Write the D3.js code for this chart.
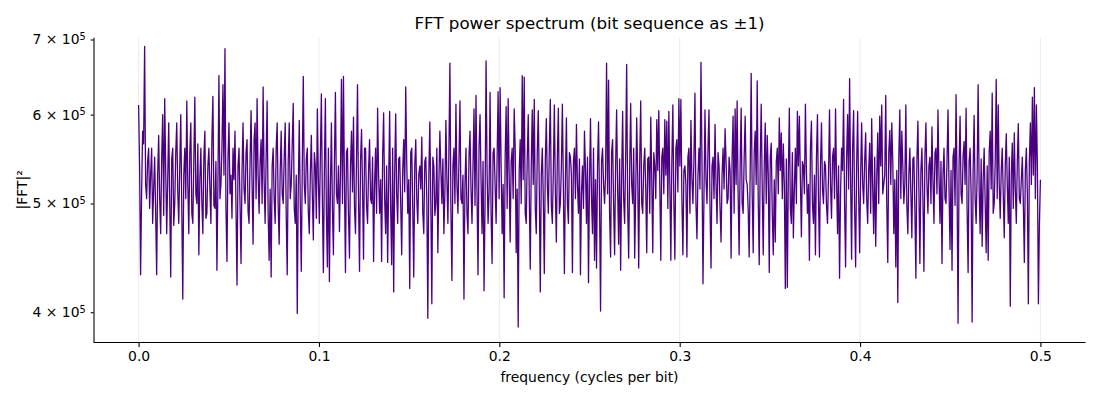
<!DOCTYPE html>
<html>
<head>
<meta charset="utf-8">
<script src="https://cdn.jsdelivr.net/npm/d3@7"></script>
<style>
  body { margin: 0; background: #fff; }
  text { font-family: "DejaVu Sans", sans-serif; }
</style>
</head>
<body>
<svg id="chart" width="1100" height="400"></svg>
<script>
// |FFT|^2 per frequency bin, in thousands
const powerK = [
  612, 540, 432, 510, 580, 565, 690, 520, 505, 545, 560, 495, 530, 560, 480, 515, 550, 490, 432, 530,
  575, 505, 470, 550, 600, 488, 620, 535, 470, 525, 590, 500, 430, 548, 560, 478, 500, 555, 590, 512,
  480, 540, 600, 496, 411, 530, 560, 505, 617, 520, 470, 556, 590, 490, 480, 545, 622, 510, 500, 565,
  450, 525, 560, 500, 470, 550, 580, 485, 490, 540, 560, 515, 480, 570, 623, 498, 495, 545, 436, 520,
  650, 505, 520, 560, 638, 530, 687, 495, 444, 548, 590, 510, 530, 485, 560, 525, 580, 495, 423, 540,
  560, 500, 442, 535, 590, 515, 500, 555, 570, 492, 480, 545, 605, 520, 460, 570, 590, 505, 620, 530,
  490, 545, 570, 500, 635, 525, 480, 550, 617, 490, 445, 515, 430, 540, 560, 505, 480, 560, 590, 498,
  460, 535, 580, 510, 500, 550, 590, 488, 432, 545, 590, 505, 520, 565, 614, 495, 480, 530, 399, 515,
  593, 500, 435, 540, 649, 520, 500, 548, 560, 492, 470, 530, 575, 510, 464, 555, 540, 485, 607, 525,
  480, 550, 626, 505, 434, 535, 620, 490, 439, 560, 426, 515, 590, 495, 450, 545, 628, 510, 500, 540,
  472, 530, 645, 500, 649, 520, 434, 555, 560, 488, 447, 540, 580, 512, 597, 495, 470, 548, 638, 505,
  435, 545, 582, 515, 446, 560, 560, 498, 480, 535, 570, 505, 500, 550, 444, 520, 560, 490, 608, 530,
  490, 525, 444, 550, 602, 505, 470, 540, 443, 520, 604, 495, 441, 560, 417, 530, 601, 510, 480, 548,
  550, 500, 450, 535, 570, 512, 635, 545, 490, 525, 420, 555, 560, 495, 430, 540, 570, 505, 480, 530,
  540, 515, 573, 490, 470, 545, 550, 505, 395, 530, 591, 500, 407, 550, 540, 488, 500, 560, 452, 520,
  580, 535, 500, 548, 470, 510, 593, 525, 480, 555, 667, 495, 427, 540, 560, 500, 613, 520, 490, 545,
  617, 505, 500, 530, 411, 520, 560, 490, 470, 550, 580, 515, 480, 540, 607, 498, 624, 510, 432, 560,
  600, 525, 470, 545, 418, 500, 670, 535, 480, 512, 628, 490, 442, 555, 560, 520, 480, 548, 629, 505,
  634, 540, 470, 520, 412, 550, 610, 495, 620, 530, 462, 545, 560, 505, 607, 560, 452, 515, 388, 535,
  570, 500, 650, 525, 648, 490, 480, 548, 600, 510, 437, 540, 606, 520, 619, 495, 470, 555, 605, 515,
  417, 530, 560, 505, 433, 545, 595, 520, 490, 560, 619, 498, 480, 535, 612, 512, 462, 550, 608, 490,
  500, 540, 613, 515, 433, 525, 596, 500, 480, 555, 550, 530, 434, 545, 560, 505, 588, 520, 490, 548,
  432, 510, 540, 495, 580, 535, 480, 550, 425, 520, 595, 505, 470, 560, 445, 525, 438, 540, 591, 500,
  401, 545, 560, 520, 500, 530, 667, 510, 644, 490, 448, 555, 570, 500, 450, 540, 606, 515, 460, 548,
  436, 525, 604, 505, 480, 550, 665, 498, 447, 535, 614, 520, 500, 560, 447, 510, 596, 530, 438, 545,
  617, 500, 490, 540, 560, 515, 452, 548, 550, 490, 597, 525, 452, 555, 540, 505, 594, 535, 605, 520,
  445, 550, 560, 510, 594, 530, 592, 495, 604, 520, 445, 545, 612, 500, 446, 560, 570, 512, 620, 540,
  619, 505, 450, 535, 540, 520, 448, 550, 560, 490, 593, 525, 500, 548, 627, 500, 465, 530, 560, 515,
  668, 545, 424, 510, 606, 525, 500, 560, 606, 498, 438, 540, 550, 505, 588, 520, 480, 555, 540, 495,
  462, 530, 560, 515, 583, 545, 500, 505, 550, 535, 447, 550, 598, 490, 607, 520, 617, 510, 450, 540,
  608, 500, 490, 548, 598, 525, 520, 495, 448, 535, 653, 510, 452, 555, 580, 520, 643, 505, 441, 545,
  613, 515, 450, 540, 590, 500, 575, 530, 434, 550, 566, 490, 450, 525, 462, 545, 560, 510, 596, 535,
  578, 505, 565, 520, 420, 548, 421, 530, 608, 495, 480, 555, 466, 515, 560, 500, 604, 540, 598, 525,
  467, 545, 540, 510, 613, 535, 490, 520, 445, 560, 592, 500, 480, 530, 450, 550, 600, 505, 448, 540,
  590, 515, 500, 545, 540, 498, 480, 530, 606, 520, 485, 550, 560, 505, 607, 525, 470, 540, 429, 510,
  560, 535, 619, 500, 439, 548, 600, 515, 646, 525, 446, 560, 605, 495, 439, 540, 604, 510, 452, 530,
  590, 520, 500, 545, 578, 505, 480, 535, 566, 490, 595, 515, 470, 550, 458, 525, 578, 500, 598, 540,
  612, 510, 520, 530, 624, 500, 443, 555, 581, 520, 590, 545, 470, 525, 439, 535, 408, 550, 606, 505,
  580, 540, 500, 520, 612, 498, 470, 530, 560, 510, 466, 548, 550, 495, 429, 545, 592, 515, 442, 535,
  560, 505, 435, 550, 590, 520, 490, 540, 550, 500, 585, 525, 480, 555, 560, 510, 606, 530, 480, 545,
  442, 530, 560, 505, 500, 545, 606, 515, 455, 535, 436, 550, 560, 498, 625, 520, 391, 540, 598, 510,
  500, 550, 568, 520, 608, 495, 434, 545, 560, 510, 392, 535, 599, 505, 480, 530, 638, 515, 470, 548,
  458, 525, 560, 500, 452, 540, 445, 555, 580, 515, 627, 490, 500, 545, 645, 505, 612, 520, 485, 535,
  560, 510, 466, 540, 577, 520, 480, 550, 405, 530, 566, 495, 578, 515, 480, 545, 589, 505, 500, 525,
  550, 500, 443, 535, 560, 510, 407, 545, 590, 520, 622, 530, 634, 505, 612, 540, 407, 480, 525
];
const xTicks = [0, 0.1, 0.2, 0.3, 0.4, 0.5];
const yTicks = [400, 500, 600, 700];
const yMantissa = ["4", "5", "6", "7"];
const yExponent = "5";

const svg = d3.select("#chart");
const plotLeft = 93.5, plotRight = 1085.5, plotTop = 37.7, plotBottom = 342;

const x = d3.scaleLinear().domain([-0.025, 0.525]).range([plotLeft, plotRight]);
const y = d3.scaleLog().domain([376.3, 702.6]).range([plotBottom, plotTop]);

// frequency of bin i: bins run evenly from 0 to 0.5 cycles per bit
const freqStep = 0.5 / (powerK.length - 1);

// vertical grid
svg.append("g")
  .selectAll("line")
  .data(xTicks)
  .join("line")
  .attr("x1", d => x(d)).attr("x2", d => x(d))
  .attr("y1", plotTop).attr("y2", plotBottom)
  .attr("stroke", "#b0b0b0")
  .attr("stroke-opacity", 0.3)
  .attr("stroke-width", 0.8);

// spectrum line
const line = d3.line()
  .x((d, i) => x(i * freqStep))
  .y(d => y(d));

svg.append("path")
  .datum(powerK)
  .attr("d", line)
  .attr("fill", "none")
  .attr("stroke", "#4b0082")
  .attr("stroke-width", 1.3)
  .attr("stroke-linejoin", "round");

// x axis
const xAxis = svg.append("g")
  .attr("transform", `translate(0,${plotBottom})`)
  .call(d3.axisBottom(x)
    .tickValues(xTicks)
    .tickFormat(d3.format(".1f"))
    .tickSize(4.9)
    .tickSizeOuter(0)
    .tickPadding(4.5));
xAxis.select(".domain").attr("d", `M${plotLeft},0.5H${plotRight}`);

// y axis
const yAxis = svg.append("g")
  .attr("transform", `translate(${plotLeft},0)`)
  .call(d3.axisLeft(y)
    .tickValues(yTicks)
    .tickFormat("")
    .tickSize(2.8)
    .tickSizeOuter(0)
    .tickPadding(5));
yAxis.select(".domain").attr("d", `M0.5,${plotTop}V${plotBottom}`);

yAxis.selectAll(".tick text").each(function(d, i) {
  const t = d3.select(this);
  t.append("tspan").text(yMantissa[i] + " × 10");
  t.append("tspan")
    .attr("dy", "-0.45em")
    .attr("font-size", "9.8px")
    .text(yExponent);
});

svg.selectAll(".tick text").attr("font-size", "13.9px").attr("fill", "#000");
svg.selectAll(".domain, .tick line").attr("stroke", "#000").attr("stroke-width", 1.1);

// title and axis labels
svg.append("text")
  .attr("x", (plotLeft + plotRight) / 2).attr("y", 29)
  .attr("text-anchor", "middle")
  .attr("font-size", "16.7px")
  .text("FFT power spectrum (bit sequence as ±1)");

svg.append("text")
  .attr("x", (plotLeft + plotRight) / 2).attr("y", 382)
  .attr("text-anchor", "middle")
  .attr("font-size", "13.9px")
  .text("frequency (cycles per bit)");

svg.append("text")
  .attr("transform", `translate(27,${(plotTop + plotBottom) / 2}) rotate(-90)`)
  .attr("text-anchor", "middle")
  .attr("font-size", "13.9px")
  .text("|FFT|²");
</script>
</body>
</html>
